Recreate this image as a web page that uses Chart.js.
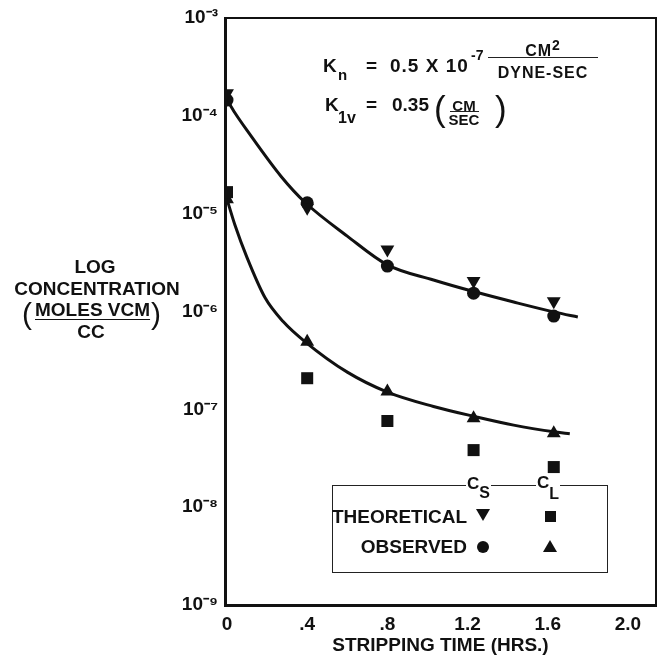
<!DOCTYPE html>
<html>
<head>
<meta charset="utf-8">
<script src="https://cdn.jsdelivr.net/npm/chart.js@4.4.1/dist/chart.umd.min.js"></script>
<style>
  body { margin: 0; background: #fff; }
  #wrap { position: relative; width: 659px; height: 657px; }
  #chart { position: absolute; left: 0; top: 0; }
  .t { position: absolute; font: bold 19px 'Liberation Sans', Arial, sans-serif; line-height: 1; color: #111; white-space: nowrap; }
  .s16 { font-size: 16px; }
  .s15 { font-size: 15px; }
  .s14 { font-size: 14px; }
  .paren { font-weight: normal; }
  .frac { text-align: center; }
  .box { position: absolute; left: 332px; top: 485px; width: 274px; height: 86px; border: 1.5px solid #222; }
  .sym { position: absolute; }
</style>
</head>
<body>
<div id="wrap">
  <canvas id="chart" width="659" height="657"></canvas>

  <!-- y axis title -->
  <div class="t" style="left:0;width:190px;text-align:center;top:257px;">LOG</div>
  <div class="t" style="left:0;width:194px;text-align:center;top:279px;">CONCENTRATION</div>
  <div class="t paren" style="left:22px;top:299px;font-size:30px;">(</div>
  <div class="t" style="left:35px;top:299.5px;text-decoration:underline;text-underline-offset:3px;">MOLES VCM</div>
  <div class="t paren" style="left:151px;top:299px;font-size:30px;">)</div>
  <div class="t" style="left:0;width:182px;text-align:center;top:322px;">CC</div>

  <!-- constants -->
  <div class="t" style="left:323px;top:55.5px;">K</div>
  <div class="t s15" style="left:338px;top:67px;">n</div>
  <div class="t" style="left:366px;top:55.5px;">=</div>
  <div class="t" style="left:390px;top:55.5px;letter-spacing:1px;">0.5 X 10</div>
  <div class="t s14" style="left:471px;top:48px;">-7</div>
  <div class="t s16 frac" style="left:488px;top:42.5px;width:110px;letter-spacing:1px;">CM<span class="s14" style="position:relative;top:-6px;">2</span></div>
  <div style="position:absolute;left:488px;top:57px;width:110px;height:0;border-top:1.5px solid #222;"></div>
  <div class="t s16 frac" style="left:488px;top:64.5px;width:110px;letter-spacing:1px;">DYNE-SEC</div>

  <div class="t" style="left:325px;top:94.5px;">K</div>
  <div class="t s16" style="left:338px;top:109.5px;">1v</div>
  <div class="t" style="left:366px;top:94.5px;">=</div>
  <div class="t" style="left:392px;top:94.5px;">0.35</div>
  <div class="t paren" style="left:434px;top:91px;font-size:35px;">(</div>
  <div class="t s15 frac" style="left:448px;top:97.5px;width:32px;">CM</div>
  <div style="position:absolute;left:450px;top:111px;width:29px;height:0;border-top:1.5px solid #222;"></div>
  <div class="t s15 frac" style="left:448px;top:112px;width:32px;">SEC</div>
  <div class="t paren" style="left:495px;top:91px;font-size:35px;">)</div>

  <!-- legend -->
  <div class="box"></div>
  <div class="t" style="left:466px;top:475px;font-size:17px;background:#fff;padding:0 1px;">C<span class="s16" style="position:relative;top:9px;">S</span></div>
  <div class="t" style="left:536px;top:474px;font-size:17px;background:#fff;padding:0 1px;">C<span class="s16" style="position:relative;top:11px;">L</span></div>
  <div class="t" style="right:192px;top:507px;">THEORETICAL</div>
  <div class="t" style="right:192px;top:537px;">OBSERVED</div>
  <div class="sym" style="left:476px;top:509px;width:0;height:0;border-left:7px solid transparent;border-right:7px solid transparent;border-top:12px solid #111;"></div>
  <div class="sym" style="left:545px;top:511px;width:11px;height:11px;background:#111;"></div>
  <div class="sym" style="left:477px;top:541px;width:12px;height:12px;border-radius:50%;background:#111;"></div>
  <div class="sym" style="left:543px;top:540px;width:0;height:0;border-left:7px solid transparent;border-right:7px solid transparent;border-bottom:12px solid #111;"></div>
</div>

<script>
// sample times (hrs) of the plotted points
const sampleTimes = [0, 0.4, 0.8, 1.23, 1.63];
const theoreticalCs = [1.7e-4, 1.15e-5, 4.3e-6, 2.05e-6, 1.27e-6];
const observedCs = [1.45e-4, 1.29e-5, 2.91e-6, 1.54e-6, 8.98e-7];
const theoreticalCl = [1.66e-5, 2.08e-7, 7.6e-8, 3.83e-8, 2.57e-8];
const observedCl = [1.4e-5, 4.9e-7, 1.52e-7, 8.1e-8, 5.7e-8];

// fitted curves
const upperCurveX = [0, 0.04, 0.1, 0.27, 0.39, 0.6, 0.8, 1.03, 1.24, 1.43, 1.64, 1.75];
const upperCurveY = [1.46e-4, 1.07e-4, 7.1e-5, 2.4e-5, 1.3e-5, 5.9e-6, 3.0e-6, 2.1e-6, 1.58e-6, 1.25e-6, 9.8e-7, 8.8e-7];
const lowerCurveX = [0, 0.04, 0.1, 0.19, 0.28, 0.39, 0.6, 0.8, 1.03, 1.24, 1.43, 1.64, 1.71];
const lowerCurveY = [1.4e-5, 7.6e-6, 3.55e-6, 1.38e-6, 7.9e-7, 4.9e-7, 2.4e-7, 1.5e-7, 1.07e-7, 8.4e-8, 6.9e-8, 5.86e-8, 5.62e-8];

const xTickValues = [0, 0.4, 0.8, 1.2, 1.6, 2.0];
const xTickLabels = ['0', '.4', '.8', '1.2', '1.6', '2.0'];
const yTickValues = [1e-9, 1e-8, 1e-7, 1e-6, 1e-5, 1e-4, 1e-3];
const yTickLabels = ['10\u207B\u2079', '10\u207B\u2078', '10\u207B\u2077', '10\u207B\u2076', '10\u207B\u2075', '10\u207B\u2074', '10\u207B\u00B3'];

const ink = '#111';
const fontFamily = "'Liberation Sans', Arial, sans-serif";

function pairs(xs, ys) {
  return xs.map((x, i) => ({ x: x, y: ys[i] }));
}

function markers(ys, style, radius, rotation) {
  return {
    type: 'scatter',
    data: pairs(sampleTimes, ys),
    pointStyle: style,
    pointRadius: radius,
    rotation: rotation || 0,
    backgroundColor: ink,
    borderColor: ink,
    borderWidth: 0,
    showLine: false
  };
}

function curve(xs, ys) {
  return {
    type: 'line',
    data: pairs(xs, ys),
    borderColor: ink,
    borderWidth: 3,
    pointRadius: 0,
    fill: false,
    cubicInterpolationMode: 'monotone'
  };
}

// top and right edges of the frame
const frame = {
  id: 'frame',
  afterDraw(chart) {
    const a = chart.chartArea;
    const c = chart.ctx;
    c.save();
    c.strokeStyle = ink;
    c.lineWidth = 2;
    c.beginPath();
    c.moveTo(a.left, a.top);
    c.lineTo(a.right, a.top);
    c.lineTo(a.right, a.bottom);
    c.stroke();
    c.restore();
  }
};

new Chart(document.getElementById('chart'), {
  type: 'scatter',
  data: {
    datasets: [
      markers(theoreticalCs, 'triangle', 8, 180),
      markers(observedCs, 'circle', 6.5),
      markers(theoreticalCl, 'rect', 8.5),
      markers(observedCl, 'triangle', 8),
      curve(upperCurveX, upperCurveY),
      curve(lowerCurveX, lowerCurveY)
    ]
  },
  options: {
    responsive: false,
    animation: false,
    devicePixelRatio: 1,
    layout: { autoPadding: false, padding: { top: 18, right: 3, left: 0, bottom: 0 } },
    plugins: { legend: { display: false }, tooltip: { enabled: false } },
    scales: {
      x: {
        type: 'linear',
        min: -0.01,
        max: 2.14,
        afterBuildTicks: s => { s.ticks = xTickValues.map(v => ({ value: v })); },
        afterFit: s => { s.height = 52; s.paddingLeft = 0; s.paddingRight = 0; },
        grid: { display: false, drawTicks: false },
        border: { display: true, color: ink, width: 3 },
        ticks: {
          color: ink,
          padding: 8,
          maxRotation: 0,
          autoSkip: false,
          font: { family: fontFamily, size: 19, weight: 'bold' },
          callback: (v) => xTickLabels[xTickValues.indexOf(v)]
        },
        title: {
          display: true,
          text: 'STRIPPING TIME (HRS.)',
          color: ink,
          padding: { top: 0, bottom: 0 },
          font: { family: fontFamily, size: 19, weight: 'bold' }
        }
      },
      y: {
        type: 'logarithmic',
        min: 1e-9,
        max: 1e-3,
        afterBuildTicks: s => { s.ticks = yTickValues.map(v => ({ value: v })); },
        afterFit: s => { s.width = 225; s.paddingTop = 0; s.paddingBottom = 0; },
        grid: { display: false, drawTicks: false },
        border: { display: true, color: ink, width: 3 },
        ticks: {
          color: ink,
          padding: 7,
          autoSkip: false,
          font: { family: fontFamily, size: 19, weight: 'bold' },
          callback: (v) => {
            const i = yTickValues.findIndex(t => Math.abs(Math.log10(t) - Math.log10(v)) < 1e-6);
            return i >= 0 ? yTickLabels[i] : '';
          }
        }
      }
    }
  },
  plugins: [frame]
});
</script>
</body>
</html>
